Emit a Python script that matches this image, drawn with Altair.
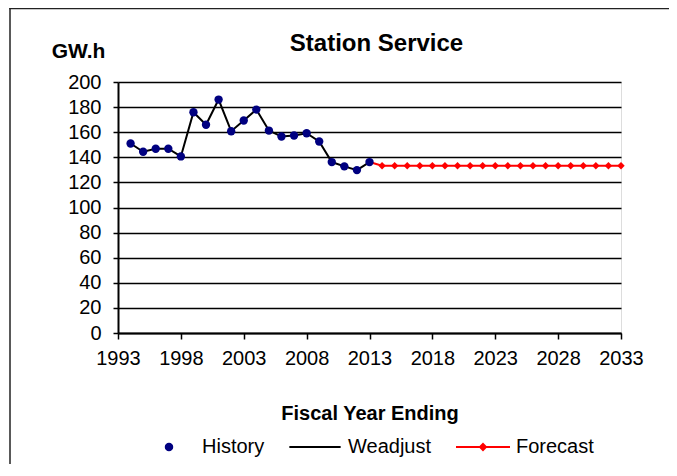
import altair as alt
import pandas as pd

hist_years = list(range(1994, 2014))
hist_values = [151.0, 144.4, 146.8, 146.8, 140.7, 175.9, 165.9, 186.0, 160.8, 169.3,
               178.0, 161.3, 156.6, 157.4, 159.2, 152.6, 136.2, 132.8, 129.8, 136.2]
fc_years = list(range(2014, 2034))
fc_values = [133.3] * 20
x_ticks = [1993, 1998, 2003, 2008, 2013, 2018, 2023, 2028, 2033]
y_ticks = [0, 20, 40, 60, 80, 100, 120, 140, 160, 180, 200]
series_names = ["History", "Weadjust", "Forecast"]
series_colors = ["#000080", "#000000", "#FF0000"]

FONT = "Liberation Sans"
W, H = 503, 251

hist = pd.DataFrame({"year": hist_years, "value": hist_values})
fc_line = pd.DataFrame({"year": [hist_years[-1]] + fc_years,
                        "value": [hist_values[-1]] + fc_values})
fc = pd.DataFrame({"year": fc_years, "value": fc_values})
leg = pd.DataFrame({"year": [hist_years[0]] * 3, "value": [hist_values[0]] * 3,
                    "series": series_names})
one = pd.DataFrame({"k": [0]})

xs = alt.Scale(domain=[1993, 2033], nice=False, zero=False)
ys = alt.Scale(domain=[0, 200], nice=False)

x_enc = alt.X("year:Q", scale=xs, axis=alt.Axis(
    values=x_ticks, format="d", title="Fiscal Year Ending", grid=False,
    labelOverlap=False, labelFlush=False,
    labelFont=FONT, labelFontSize=20, labelColor="#000", labelPadding=9,
    tickSize=6, tickColor="#000", tickWidth=1.5, domainColor="#000", domainWidth=2,
    titleFont=FONT, titleFontSize=20, titleFontWeight="bold", titleColor="#000",
    titleY=86, titleBaseline="alphabetic"))
y_enc = alt.Y("value:Q", scale=ys, axis=alt.Axis(
    values=y_ticks, title="GW.h", grid=True, gridColor="#000", gridWidth=1.5,
    labelOverlap=False,
    labelFont=FONT, labelFontSize=20, labelColor="#000", labelPadding=12,
    tickSize=5, tickColor="#000", tickWidth=1.5, domainColor="#000", domainWidth=2,
    titleFont=FONT, titleFontSize=21, titleFontWeight="bold", titleColor="#000",
    titleAngle=0, titleAlign="center", titleBaseline="alphabetic",
    titleX=-40, titleY=-25))

frame_left = alt.Chart(one).mark_rect(color="#222", strokeWidth=0).encode(
    x=alt.value(-108.75), x2=alt.value(-107.25), y=alt.value(-74.25), y2=alt.value(H + 140))
frame_top = alt.Chart(one).mark_rect(color="#222", strokeWidth=0).encode(
    x=alt.value(-108.75), x2=alt.value(W + 48), y=alt.value(-74.25), y2=alt.value(-72.75))

black_line = alt.Chart(hist).mark_line(color="#000", strokeWidth=2).encode(x=x_enc, y=y_enc)
red_line = alt.Chart(fc_line).mark_line(color="#FF0000", strokeWidth=2).encode(x=x_enc, y=y_enc)
red_pts = alt.Chart(fc).mark_point(shape="diamond", filled=True, color="#FF0000",
                                   size=55, opacity=1).encode(x=x_enc, y=y_enc)
navy_pts = alt.Chart(hist).mark_circle(color="#000080", size=70, opacity=1).encode(x=x_enc, y=y_enc)

paths = [
    "M-0.12,0A0.12,0.12,0,1,1,0.12,0A0.12,0.12,0,1,1,-0.12,0Z",
    "M-0.95,0L0.95,0",
    "M-1,0L1,0M0,-0.11L0.11,0L0,0.11L-0.11,0Z",
]
legend = alt.Legend(title=None, orient="none", direction="horizontal",
                    legendX=23, legendY=337, padding=0,
                    symbolSize=2916, symbolStrokeWidth=2, symbolOpacity=1,
                    labelFont=FONT, labelFontSize=20, labelColor="#000",
                    labelOffset=5, columnPadding=20)
sdom = alt.Scale(domain=series_names, range=series_colors)
leg_layer = alt.Chart(leg).mark_point(filled=True, opacity=0).encode(
    x=x_enc, y=y_enc,
    fill=alt.Fill("series:N", scale=sdom, legend=legend),
    stroke=alt.Stroke("series:N", scale=sdom, legend=legend),
    shape=alt.Shape("series:N", scale=alt.Scale(domain=series_names, range=paths), legend=legend),
)

chart = alt.layer(frame_left, frame_top, leg_layer, black_line, red_line, red_pts, navy_pts).properties(
    width=W, height=H,
    title=alt.TitleParams("Station Service", font=FONT, fontSize=24, fontWeight="bold",
                          color="#000", anchor="middle", dx=7, offset=-67,
                          baseline="alphabetic"),
    padding={"left": 110, "top": 74, "right": 48, "bottom": 131},
    autosize=alt.AutoSizeParams(type="none"),
).configure_view(stroke="#000", strokeWidth=1.5).configure(background="white")

chart.save("out.html", embed_options={"renderer": "svg", "actions": False})
